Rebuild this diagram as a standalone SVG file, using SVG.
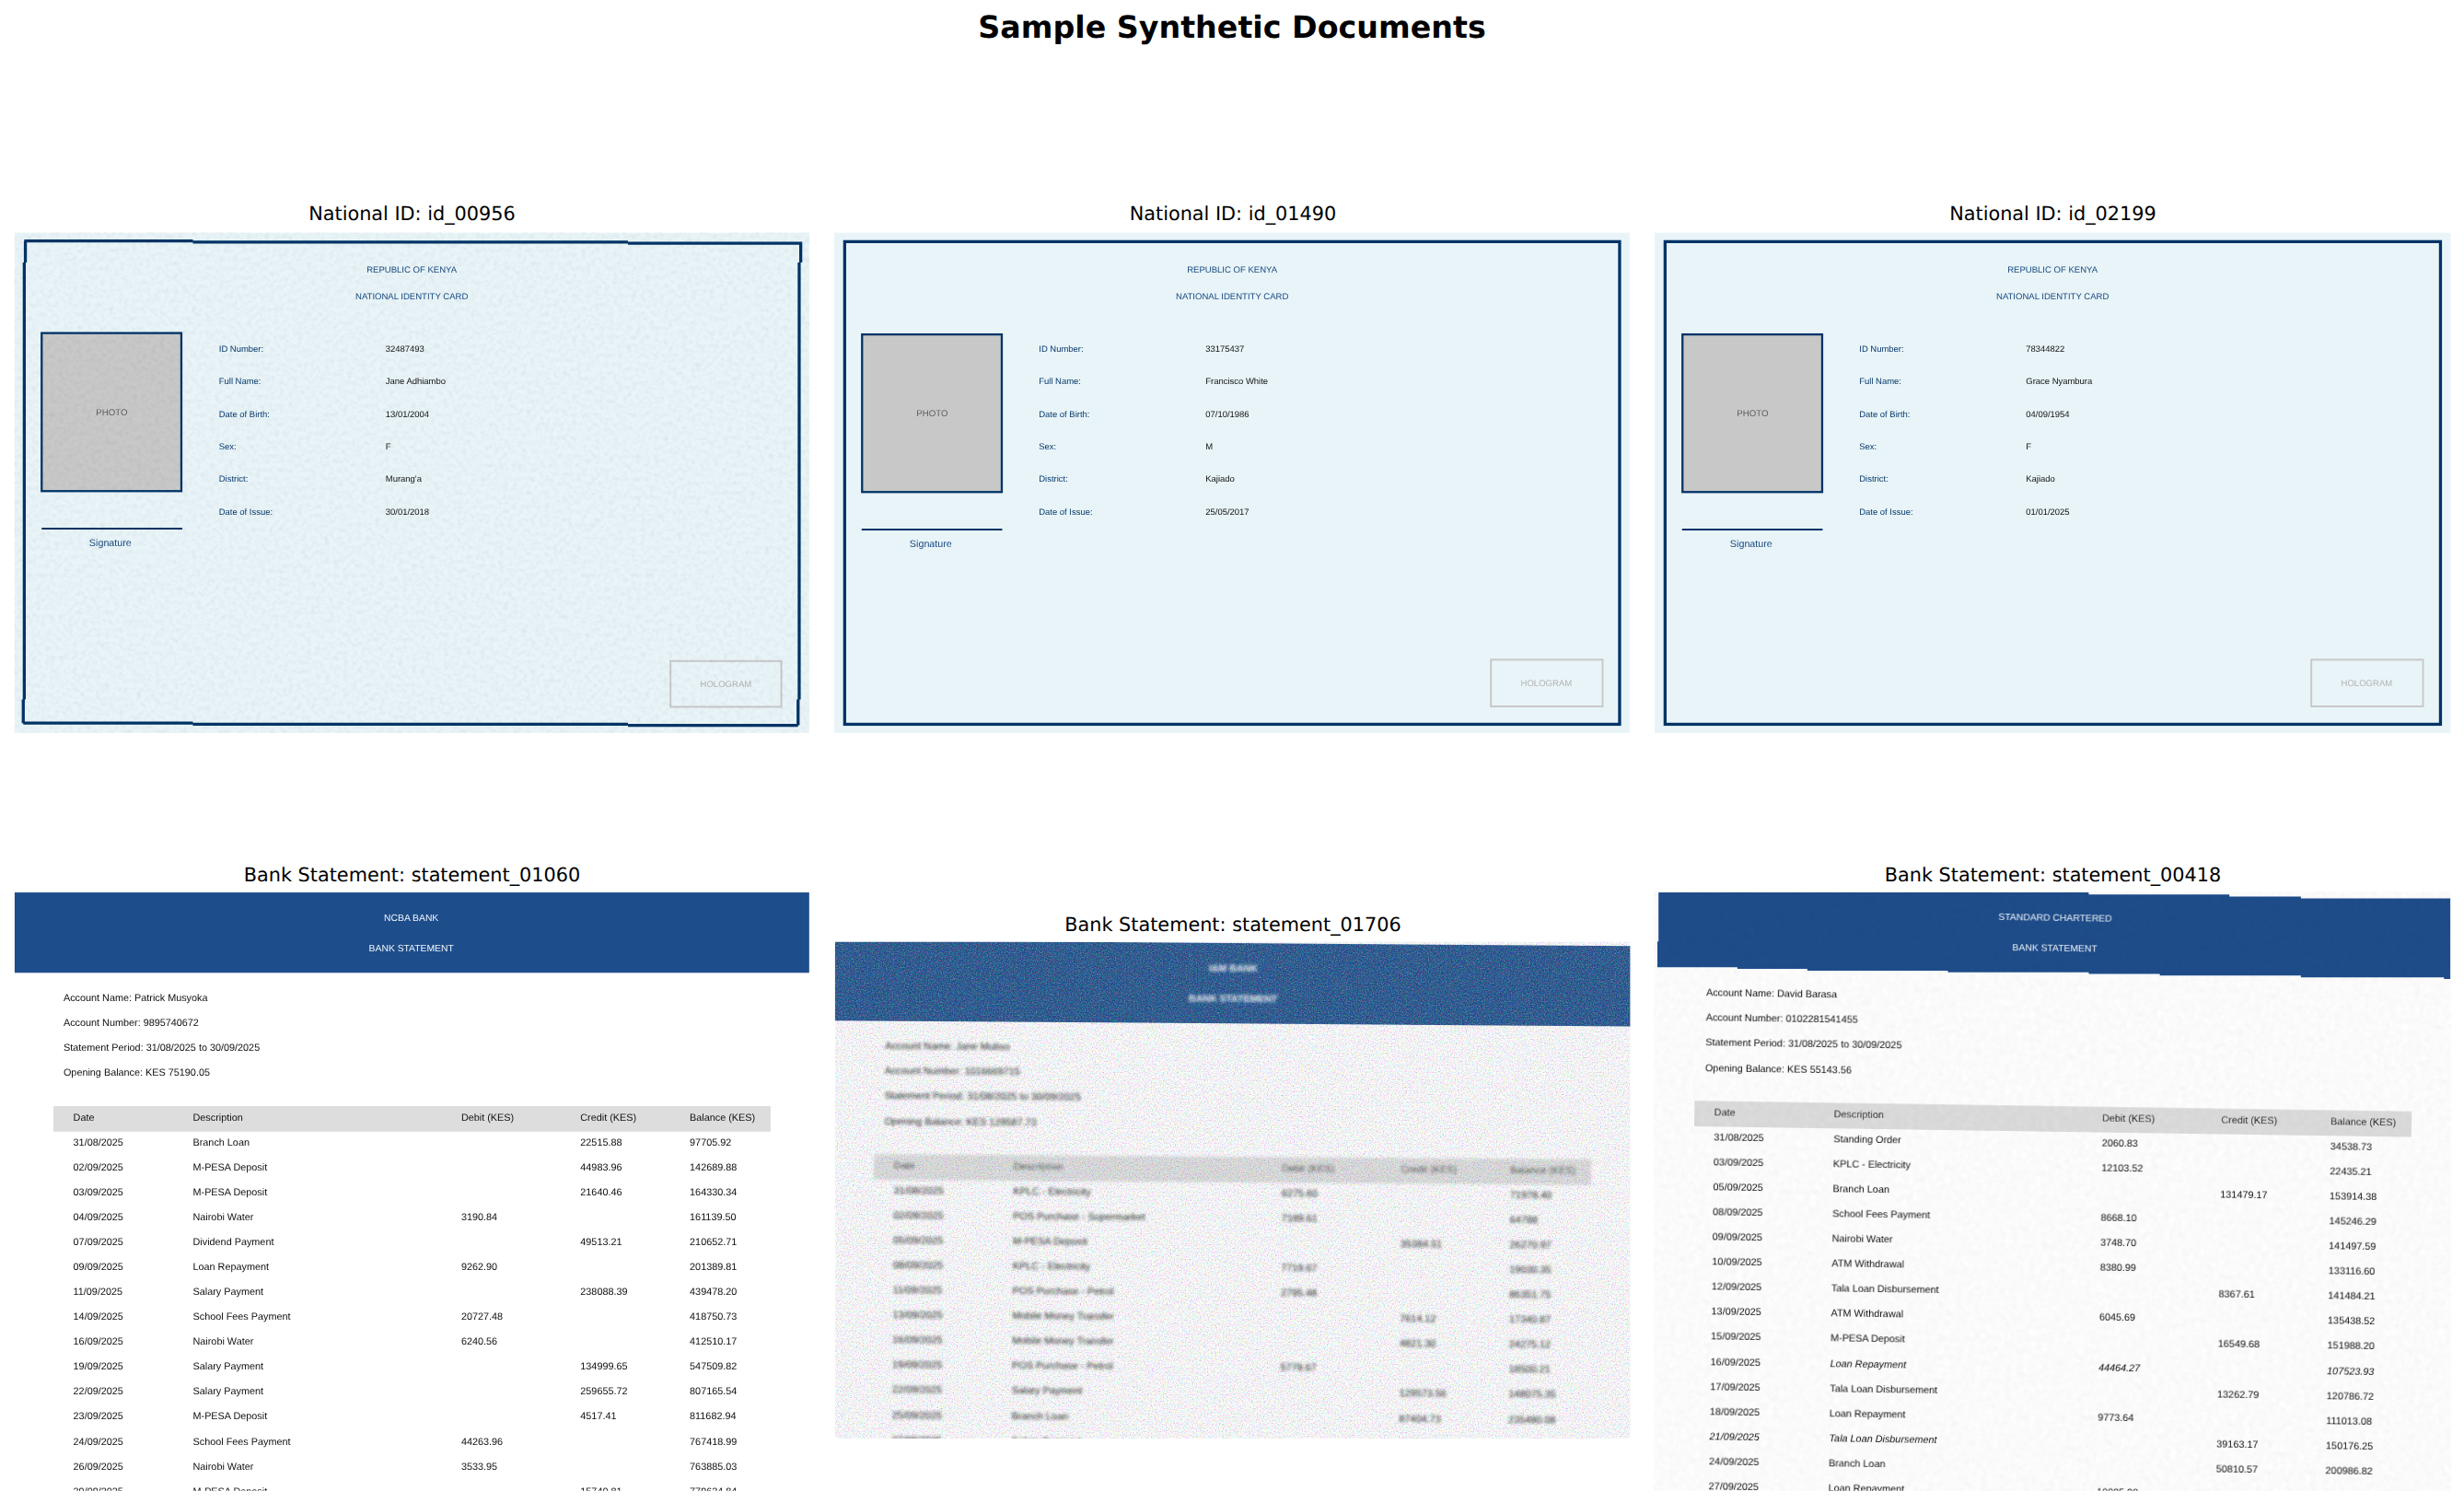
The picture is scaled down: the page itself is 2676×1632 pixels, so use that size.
<svg xmlns="http://www.w3.org/2000/svg" width="2676" height="1632" viewBox="0 0 2676 1632">
<style>
text{font-family:"Liberation Sans",Arial,sans-serif;text-rendering:geometricPrecision}
.main{font-family:"DejaVu Sans",sans-serif;font-weight:700;font-size:33.3px;text-anchor:middle;fill:#000}
.sub{font-family:"DejaVu Sans",sans-serif;font-size:20.8px;text-anchor:middle;fill:#000}
.cardbg{fill:#e8f4f8}
.frame{fill:none;stroke:#003366;stroke-width:3.3}
.photo{fill:#c8c8c8;stroke:#003366;stroke-width:2.3}
.sig{stroke:#003366;stroke-width:2;fill:none}
.holo{fill:none;stroke:#c8c8c8;stroke-width:2}
.ct{font-size:9.6px;fill:#1a4a80;text-anchor:middle}
.sg{font-size:10.8px;fill:#1a4a80;text-anchor:middle}
.ph{font-size:9.7px;fill:#5c5c5c;text-anchor:middle}
.hg{font-size:9.6px;fill:#b4b4b4;text-anchor:middle}
.lb{font-size:9.5px;fill:#0a3a6c}
.vl{font-size:9.5px;fill:#111}
.band{fill:#1e4d8b}
.bt{font-size:10.4px;fill:#eef3fa;text-anchor:middle}
.bw{font-size:10.6px;fill:#fff;text-anchor:middle;font-weight:700}
.hd{fill:#dddddd}
.tx{font-size:10.9px;fill:#111}
.bl{font-size:10.9px;fill:#000}
.it{font-style:italic}
.mul{mix-blend-mode:multiply}
.scr{mix-blend-mode:screen}
</style>
<defs>
<filter id="soft" x="-2%" y="-2%" width="104%" height="104%"><feGaussianBlur stdDeviation="0.3"/></filter>
<filter id="blurred" x="-2%" y="-2%" width="104%" height="104%"><feGaussianBlur stdDeviation="1.35"/></filter>
<filter id="grainDark" x="0" y="0" width="100%" height="100%" color-interpolation-filters="sRGB"><feTurbulence type="fractalNoise" baseFrequency="0.75" numOctaves="2" seed="4"/><feColorMatrix type="matrix" values="0.8 0 0 0 0.56 0 0.8 0 0 0.56 0 0 0.8 0 0.58 0 0 0 0 1"/></filter>
<filter id="grainLight" x="0" y="0" width="100%" height="100%" color-interpolation-filters="sRGB"><feTurbulence type="fractalNoise" baseFrequency="0.75" numOctaves="2" seed="17"/><feColorMatrix type="matrix" values="1 0 0 0 -0.42 0 1 0 0 -0.4 0 0 1 0 -0.42 0 0 0 0 1"/></filter>
<filter id="grainCard" x="0" y="0" width="100%" height="100%" color-interpolation-filters="sRGB"><feTurbulence type="fractalNoise" baseFrequency="0.2" numOctaves="2" seed="12"/><feColorMatrix type="matrix" values="0.05 0.05 0.05 0 0.915 0.05 0.05 0.05 0 0.915 0.05 0.05 0.05 0 0.915 0 0 0 0 1"/></filter>
<filter id="grainPage" x="0" y="0" width="100%" height="100%" color-interpolation-filters="sRGB"><feTurbulence type="fractalNoise" baseFrequency="0.15" numOctaves="2" seed="21"/><feColorMatrix type="matrix" values="0.025 0.025 0.025 0 0.945 0.025 0.025 0.025 0 0.945 0.025 0.025 0.025 0 0.945 0 0 0 0 1"/></filter>
<clipPath id="clip1"><rect x="16" y="969" width="867.5" height="653.5"/></clipPath>
<clipPath id="clip2"><rect x="907" y="1023" width="868" height="542"/></clipPath>
<clipPath id="clip3"><rect x="1797" y="969" width="869" height="653.5"/></clipPath>
<g id="cardBase">
<rect class="photo" x="46.5" y="364" width="152.5" height="172"/>
<line class="sig" x1="46" y1="577" x2="199.5" y2="577"/>
<text class="sg" x="121.5" y="596">Signature</text>
<text class="ph" x="123" y="453">PHOTO</text>
<text class="ct" x="450.5" y="296">REPUBLIC OF KENYA</text>
<text class="ct" x="450.5" y="326">NATIONAL IDENTITY CARD</text>
<text class="lb" x="239.5" y="383">ID Number:</text>
<text class="lb" x="239.5" y="418.5">Full Name:</text>
<text class="lb" x="239.5" y="454">Date of Birth:</text>
<text class="lb" x="239.5" y="489.5">Sex:</text>
<text class="lb" x="239.5" y="525">District:</text>
<text class="lb" x="239.5" y="560.5">Date of Issue:</text>
</g>
</defs>
<rect width="2676" height="1632" fill="#fff"/>
<text id="title" class="main" x="1338" y="41">Sample Synthetic Documents</text>
<text class="sub" x="447.5" y="239">National ID: id_00956</text>
<text class="sub" x="1339" y="239">National ID: id_01490</text>
<text class="sub" x="2229.5" y="239">National ID: id_02199</text>
<text class="sub" x="447.5" y="957">Bank Statement: statement_01060</text>
<text class="sub" x="1339" y="1011">Bank Statement: statement_01706</text>
<text class="sub" x="2229.5" y="957">Bank Statement: statement_00418</text>

<g id="card-id_00956" transform="translate(0 200) scale(.9948) translate(0 -200)">
<g style="isolation:isolate">
<rect class="cardbg" x="16" y="253" width="867.5" height="546"/>
<path class="frame" d="M26.5 262H210.6M210.6 263.2H685.5M685.5 264.4H875.8M874.2 264.4V285.5M872.5 285.5V762.4M871.3 762.4V790.6M685.5 790.6H871.3M210.6 789.4H685.5M25.4 788.2H210.6M25.4 788.2V762.4M26.5 762.4V285.5M27.7 285.5V262"/>
<g filter="url(#soft)">
<rect class="photo" x="45.5" y="362.5" width="152.5" height="172.5"/>
<line class="sig" x1="45.5" y1="576" x2="199" y2="576"/>
<text class="sg" x="120.5" y="595">Signature</text>
<text class="ph" x="122" y="452">PHOTO</text>
<text class="ct" x="449.5" y="296">REPUBLIC OF KENYA</text>
<text class="ct" x="449.5" y="326">NATIONAL IDENTITY CARD</text>
<text class="lb" x="239" y="383">ID Number:</text>
<text class="lb" x="239" y="418.5">Full Name:</text>
<text class="lb" x="239" y="454">Date of Birth:</text>
<text class="lb" x="239" y="489.5">Sex:</text>
<text class="lb" x="239" y="525">District:</text>
<text class="lb" x="239" y="560.5">Date of Issue:</text>
<text class="vl" x="421" y="383">32487493</text>
<text class="vl" x="421" y="418.5">Jane Adhiambo</text>
<text class="vl" x="421" y="454">13/01/2004</text>
<text class="vl" x="421" y="489.5">F</text>
<text class="vl" x="421" y="525">Murang'a</text>
<text class="vl" x="421" y="560.5">30/01/2018</text>
<rect class="holo" x="732" y="720.5" width="121" height="50"/>
<text class="hg" x="792.5" y="748.5">HOLOGRAM</text>
</g>
<rect class="mul" x="16" y="253" width="867.5" height="546" fill="#fff" filter="url(#grainCard)"/>
</g>
</g>

<g id="card-id_01490" transform="translate(890 200) scale(.9948) translate(-890 -200)">
<rect class="cardbg" x="906" y="253" width="868.5" height="546"/>
<rect class="frame" x="917.5" y="262.7" width="846" height="526.8"/>
<g filter="url(#soft)">
<use href="#cardBase" x="890"/>
<text class="vl" x="1311.5" y="383">33175437</text>
<text class="vl" x="1311.5" y="418.5">Francisco White</text>
<text class="vl" x="1311.5" y="454">07/10/1986</text>
<text class="vl" x="1311.5" y="489.5">M</text>
<text class="vl" x="1311.5" y="525">Kajiado</text>
<text class="vl" x="1311.5" y="560.5">25/05/2017</text>
<rect class="holo" x="1623" y="719" width="122" height="51"/>
<text class="hg" x="1683.5" y="747.5">HOLOGRAM</text>
</g>
</g>

<g id="card-id_02199" transform="translate(1780 200) scale(.9948) translate(-1780 -200)">
<rect class="cardbg" x="1797" y="253" width="869" height="546"/>
<rect class="frame" x="1808.5" y="262.7" width="846.5" height="526.8"/>
<g filter="url(#soft)">
<use href="#cardBase" x="1781"/>
<text class="vl" x="2202.5" y="383">78344822</text>
<text class="vl" x="2202.5" y="418.5">Grace Nyambura</text>
<text class="vl" x="2202.5" y="454">04/09/1954</text>
<text class="vl" x="2202.5" y="489.5">F</text>
<text class="vl" x="2202.5" y="525">Kajiado</text>
<text class="vl" x="2202.5" y="560.5">01/01/2025</text>
<rect class="holo" x="2514" y="719" width="122" height="51"/>
<text class="hg" x="2574.5" y="747.5">HOLOGRAM</text>
</g>
</g>

<g id="statement-01060" transform="translate(0 920) scale(.9948) translate(0 -920)">
<g clip-path="url(#clip1)">
<rect class="band" x="15" y="969.3" width="868.5" height="87.7"/>
<g filter="url(#soft)">
<text class="bt" x="449" y="1000.4">NCBA BANK</text>
<text class="bt" x="449" y="1033.2">BANK STATEMENT</text>
<text class="tx" x="69.3" y="1088">Account Name: Patrick Musyoka</text>
<text class="tx" x="69.3" y="1115.2">Account Number: 9895740672</text>
<text class="tx" x="69.3" y="1142.4">Statement Period: 31/08/2025 to 30/09/2025</text>
<text class="tx" x="69.3" y="1169.6">Opening Balance: KES 75190.05</text>
<rect class="hd" x="58.3" y="1202.5" width="783" height="27.9"/>
<text class="tx" x="80" y="1218.5">Date</text><text class="tx" x="210.6" y="1218.5">Description</text><text class="tx" x="503.5" y="1218.5">Debit (KES)</text><text class="tx" x="633.6" y="1218.5">Credit (KES)</text><text class="tx" x="753" y="1218.5">Balance (KES)</text>
<text class="tx" x="80" y="1245.5">31/08/2025</text><text class="tx" x="210.6" y="1245.5">Branch Loan</text><text class="tx" x="633.6" y="1245.5">22515.88</text><text class="tx" x="753" y="1245.5">97705.92</text>
<text class="tx" x="80" y="1272.7">02/09/2025</text><text class="tx" x="210.6" y="1272.7">M-PESA Deposit</text><text class="tx" x="633.6" y="1272.7">44983.96</text><text class="tx" x="753" y="1272.7">142689.88</text>
<text class="tx" x="80" y="1299.9">03/09/2025</text><text class="tx" x="210.6" y="1299.9">M-PESA Deposit</text><text class="tx" x="633.6" y="1299.9">21640.46</text><text class="tx" x="753" y="1299.9">164330.34</text>
<text class="tx" x="80" y="1327.1">04/09/2025</text><text class="tx" x="210.6" y="1327.1">Nairobi Water</text><text class="tx" x="503.5" y="1327.1">3190.84</text><text class="tx" x="753" y="1327.1">161139.50</text>
<text class="tx" x="80" y="1354.3">07/09/2025</text><text class="tx" x="210.6" y="1354.3">Dividend Payment</text><text class="tx" x="633.6" y="1354.3">49513.21</text><text class="tx" x="753" y="1354.3">210652.71</text>
<text class="tx" x="80" y="1381.5">09/09/2025</text><text class="tx" x="210.6" y="1381.5">Loan Repayment</text><text class="tx" x="503.5" y="1381.5">9262.90</text><text class="tx" x="753" y="1381.5">201389.81</text>
<text class="tx" x="80" y="1408.7">11/09/2025</text><text class="tx" x="210.6" y="1408.7">Salary Payment</text><text class="tx" x="633.6" y="1408.7">238088.39</text><text class="tx" x="753" y="1408.7">439478.20</text>
<text class="tx" x="80" y="1435.9">14/09/2025</text><text class="tx" x="210.6" y="1435.9">School Fees Payment</text><text class="tx" x="503.5" y="1435.9">20727.48</text><text class="tx" x="753" y="1435.9">418750.73</text>
<text class="tx" x="80" y="1463.1">16/09/2025</text><text class="tx" x="210.6" y="1463.1">Nairobi Water</text><text class="tx" x="503.5" y="1463.1">6240.56</text><text class="tx" x="753" y="1463.1">412510.17</text>
<text class="tx" x="80" y="1490.3">19/09/2025</text><text class="tx" x="210.6" y="1490.3">Salary Payment</text><text class="tx" x="633.6" y="1490.3">134999.65</text><text class="tx" x="753" y="1490.3">547509.82</text>
<text class="tx" x="80" y="1517.5">22/09/2025</text><text class="tx" x="210.6" y="1517.5">Salary Payment</text><text class="tx" x="633.6" y="1517.5">259655.72</text><text class="tx" x="753" y="1517.5">807165.54</text>
<text class="tx" x="80" y="1544.7">23/09/2025</text><text class="tx" x="210.6" y="1544.7">M-PESA Deposit</text><text class="tx" x="633.6" y="1544.7">4517.41</text><text class="tx" x="753" y="1544.7">811682.94</text>
<text class="tx" x="80" y="1571.9">24/09/2025</text><text class="tx" x="210.6" y="1571.9">School Fees Payment</text><text class="tx" x="503.5" y="1571.9">44263.96</text><text class="tx" x="753" y="1571.9">767418.99</text>
<text class="tx" x="80" y="1599.1">26/09/2025</text><text class="tx" x="210.6" y="1599.1">Nairobi Water</text><text class="tx" x="503.5" y="1599.1">3533.95</text><text class="tx" x="753" y="1599.1">763885.03</text>
<text class="tx" x="80" y="1626.3">29/09/2025</text><text class="tx" x="210.6" y="1626.3">M-PESA Deposit</text><text class="tx" x="633.6" y="1626.3">15740.81</text><text class="tx" x="753" y="1626.3">779624.84</text>
</g>
</g>
</g>

<g id="statement-01706" transform="translate(890 980) scale(.9948) translate(-890 -980)">
<g clip-path="url(#clip2)">
<rect x="907" y="1023" width="868" height="542" fill="#fff"/>
<g transform="translate(891,55) rotate(0.42 449.5 1239)">
<rect class="band" x="0" y="969.3" width="900" height="87.7"/>
<g filter="url(#blurred)">
<text class="bw" x="449" y="1000.4">I&amp;M BANK</text>
<text class="bw" x="449" y="1033.2">BANK STATEMENT</text>
<text class="bl" x="69.3" y="1088">Account Name: Jane Mutiso</text>
<text class="bl" x="69.3" y="1115.2">Account Number: 1016669715</text>
<text class="bl" x="69.3" y="1142.4">Statement Period: 31/08/2025 to 30/09/2025</text>
<text class="bl" x="69.3" y="1169.6">Opening Balance: KES 129587.73</text>
<rect class="hd" x="58.3" y="1202.5" width="783" height="27.9"/>
<text class="bl" x="80" y="1218.5">Date</text><text class="bl" x="210.6" y="1218.5">Description</text><text class="bl" x="503.5" y="1218.5">Debit (KES)</text><text class="bl" x="633.6" y="1218.5">Credit (KES)</text><text class="bl" x="753" y="1218.5">Balance (KES)</text>
<text class="bl" x="80" y="1245.5">31/08/2025</text><text class="bl" x="210.6" y="1245.5">KPLC - Electricity</text><text class="bl" x="503.5" y="1245.5">6275.60</text><text class="bl" x="753" y="1245.5">71978.40</text>
<text class="bl" x="80" y="1272.7">02/09/2025</text><text class="bl" x="210.6" y="1272.7">POS Purchase - Supermarket</text><text class="bl" x="503.5" y="1272.7">7189.61</text><text class="bl" x="753" y="1272.7">64788</text>
<text class="bl" x="80" y="1299.9">05/09/2025</text><text class="bl" x="210.6" y="1299.9">M-PESA Deposit</text><text class="bl" x="633.6" y="1299.9">35384.51</text><text class="bl" x="753" y="1299.9">26270.97</text>
<text class="bl" x="80" y="1327.1">08/09/2025</text><text class="bl" x="210.6" y="1327.1">KPLC - Electricity</text><text class="bl" x="503.5" y="1327.1">7719.67</text><text class="bl" x="753" y="1327.1">19030.35</text>
<text class="bl" x="80" y="1354.3">11/09/2025</text><text class="bl" x="210.6" y="1354.3">POS Purchase - Petrol</text><text class="bl" x="503.5" y="1354.3">2795.48</text><text class="bl" x="753" y="1354.3">86351.75</text>
<text class="bl" x="80" y="1381.5">13/09/2025</text><text class="bl" x="210.6" y="1381.5">Mobile Money Transfer</text><text class="bl" x="633.6" y="1381.5">7614.12</text><text class="bl" x="753" y="1381.5">17340.87</text>
<text class="bl" x="80" y="1408.7">16/09/2025</text><text class="bl" x="210.6" y="1408.7">Mobile Money Transfer</text><text class="bl" x="633.6" y="1408.7">4821.30</text><text class="bl" x="753" y="1408.7">24275.12</text>
<text class="bl" x="80" y="1435.9">19/09/2025</text><text class="bl" x="210.6" y="1435.9">POS Purchase - Petrol</text><text class="bl" x="503.5" y="1435.9">5779.67</text><text class="bl" x="753" y="1435.9">18500.21</text>
<text class="bl" x="80" y="1463.1">22/09/2025</text><text class="bl" x="210.6" y="1463.1">Salary Payment</text><text class="bl" x="633.6" y="1463.1">129573.56</text><text class="bl" x="753" y="1463.1">148075.35</text>
<text class="bl" x="80" y="1490.3">25/09/2025</text><text class="bl" x="210.6" y="1490.3">Branch Loan</text><text class="bl" x="633.6" y="1490.3">87404.73</text><text class="bl" x="753" y="1490.3">235480.08</text>
<text class="bl" x="80" y="1517.5">27/09/2025</text><text class="bl" x="210.6" y="1517.5">Salary Payment</text><text class="bl" x="633.6" y="1517.5">132505.88</text><text class="bl" x="753" y="1517.5">367985.96</text>
</g>
</g>
<rect class="mul" x="907" y="1023" width="868" height="542" fill="#fff" filter="url(#grainDark)"/>
<rect class="scr" x="907" y="1023" width="868" height="542" fill="#000" filter="url(#grainLight)"/>
</g>
</g>

<g id="statement-00418" transform="translate(1780 920) scale(.9948) translate(-1780 -920)">
<g style="isolation:isolate">
<rect x="1797" y="969" width="869" height="653.5" fill="#fff"/>
<path class="band" d="M1801.3 969.3H2271V971.6H2424.5V973.9H2502.6V975.7H2665.7V1063.8H2658.8V1061.9H2502.6V1060.1H2348.6V1058.3H2271V1056.5H2117.2V1054.6H1963.8V1052.8H1887.4V1051H1800.1V1022.7H1801.3Z"/>
<g clip-path="url(#clip3)">
<g transform="translate(1781,0) rotate(0.85 449.5 1294)">
<g filter="url(#soft)">
<text class="bt" x="449" y="1000.4">STANDARD CHARTERED</text>
<text class="bt" x="449" y="1033.2">BANK STATEMENT</text>
<text class="tx" x="69.3" y="1088">Account Name: David Barasa</text>
<text class="tx" x="69.3" y="1115.2">Account Number: 0102281541455</text>
<text class="tx" x="69.3" y="1142.4">Statement Period: 31/08/2025 to 30/09/2025</text>
<text class="tx" x="69.3" y="1169.6">Opening Balance: KES 55143.56</text>
<rect class="hd" x="58.3" y="1202.5" width="783" height="27.9"/>
<text class="tx" x="80" y="1218.5">Date</text><text class="tx" x="210.6" y="1218.5">Description</text><text class="tx" x="503.5" y="1218.5">Debit (KES)</text><text class="tx" x="633.6" y="1218.5">Credit (KES)</text><text class="tx" x="753" y="1218.5">Balance (KES)</text>
<text class="tx" x="80" y="1245.5">31/08/2025</text><text class="tx" x="210.6" y="1245.5">Standing Order</text><text class="tx" x="503.5" y="1245.5">2060.83</text><text class="tx" x="753" y="1245.5">34538.73</text>
<text class="tx" x="80" y="1272.7">03/09/2025</text><text class="tx" x="210.6" y="1272.7">KPLC - Electricity</text><text class="tx" x="503.5" y="1272.7">12103.52</text><text class="tx" x="753" y="1272.7">22435.21</text>
<text class="tx" x="80" y="1299.9">05/09/2025</text><text class="tx" x="210.6" y="1299.9">Branch Loan</text><text class="tx" x="633.6" y="1299.9">131479.17</text><text class="tx" x="753" y="1299.9">153914.38</text>
<text class="tx" x="80" y="1327.1">08/09/2025</text><text class="tx" x="210.6" y="1327.1">School Fees Payment</text><text class="tx" x="503.5" y="1327.1">8668.10</text><text class="tx" x="753" y="1327.1">145246.29</text>
<text class="tx" x="80" y="1354.3">09/09/2025</text><text class="tx" x="210.6" y="1354.3">Nairobi Water</text><text class="tx" x="503.5" y="1354.3">3748.70</text><text class="tx" x="753" y="1354.3">141497.59</text>
<text class="tx" x="80" y="1381.5">10/09/2025</text><text class="tx" x="210.6" y="1381.5">ATM Withdrawal</text><text class="tx" x="503.5" y="1381.5">8380.99</text><text class="tx" x="753" y="1381.5">133116.60</text>
<text class="tx" x="80" y="1408.7">12/09/2025</text><text class="tx" x="210.6" y="1408.7">Tala Loan Disbursement</text><text class="tx" x="633.6" y="1408.7">8367.61</text><text class="tx" x="753" y="1408.7">141484.21</text>
<text class="tx" x="80" y="1435.9">13/09/2025</text><text class="tx" x="210.6" y="1435.9">ATM Withdrawal</text><text class="tx" x="503.5" y="1435.9">6045.69</text><text class="tx" x="753" y="1435.9">135438.52</text>
<text class="tx" x="80" y="1463.1">15/09/2025</text><text class="tx" x="210.6" y="1463.1">M-PESA Deposit</text><text class="tx" x="633.6" y="1463.1">16549.68</text><text class="tx" x="753" y="1463.1">151988.20</text>
<text class="tx" x="80" y="1490.3">16/09/2025</text><text class="tx it" x="210.6" y="1490.3">Loan Repayment</text><text class="tx it" x="503.5" y="1490.3">44464.27</text><text class="tx it" x="753" y="1490.3">107523.93</text>
<text class="tx" x="80" y="1517.5">17/09/2025</text><text class="tx" x="210.6" y="1517.5">Tala Loan Disbursement</text><text class="tx" x="633.6" y="1517.5">13262.79</text><text class="tx" x="753" y="1517.5">120786.72</text>
<text class="tx" x="80" y="1544.7">18/09/2025</text><text class="tx" x="210.6" y="1544.7">Loan Repayment</text><text class="tx" x="503.5" y="1544.7">9773.64</text><text class="tx" x="753" y="1544.7">111013.08</text>
<text class="tx it" x="80" y="1571.9">21/09/2025</text><text class="tx it" x="210.6" y="1571.9">Tala Loan Disbursement</text><text class="tx" x="633.6" y="1571.9">39163.17</text><text class="tx" x="753" y="1571.9">150176.25</text>
<text class="tx" x="80" y="1599.1">24/09/2025</text><text class="tx" x="210.6" y="1599.1">Branch Loan</text><text class="tx" x="633.6" y="1599.1">50810.57</text><text class="tx" x="753" y="1599.1">200986.82</text>
<text class="tx" x="80" y="1626.3">27/09/2025</text><text class="tx" x="210.6" y="1626.3">Loan Repayment</text><text class="tx" x="503.5" y="1626.3">10085.98</text>
</g>
</g>
</g>
<rect class="mul" x="1797" y="969" width="869" height="653.5" fill="#fff" filter="url(#grainPage)"/>
</g>
</g>
</svg>
